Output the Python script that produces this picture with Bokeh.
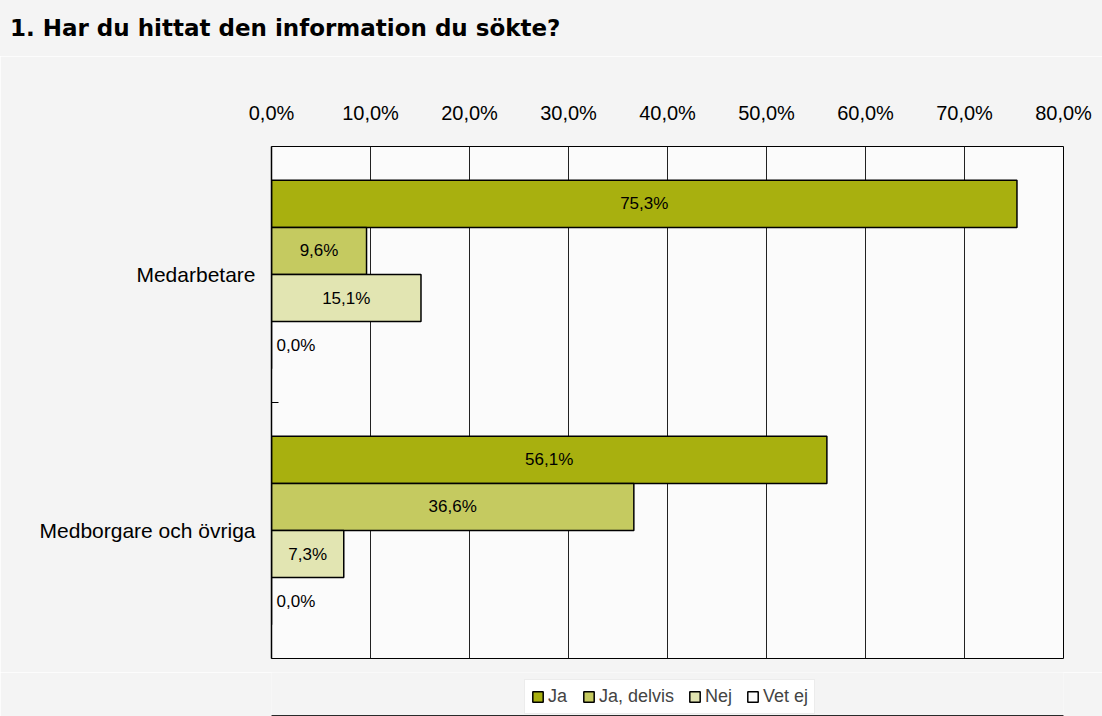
from bokeh.plotting import figure
from bokeh.layouts import column
from bokeh.models import (Range1d, FixedTicker, CustomJSTickFormatter, Legend,
                          LegendItem, ColumnDataSource, Div)
from bokeh.core.properties import value
from bokeh.embed import file_html
from bokeh.resources import INLINE

# ---- data ----
title_text = "1. Har du hittat den information du sökte?"
categories = ["Medarbetare", "Medborgare och övriga"]
series = ["Ja", "Ja, delvis", "Nej", "Vet ej"]
ja = [75.3, 56.1]
ja_delvis = [9.6, 36.6]
nej = [15.1, 7.3]
vet_ej = [0.0, 0.0]
x_ticks = [0, 10, 20, 30, 40, 50, 60, 70, 80]
colors = ["#a8b00f", "#c5ca60", "#e2e5b2", "#ffffff"]

values = [ja, ja_delvis, nej, vet_ej]
n = len(categories)
centers = [n - i - 0.5 for i in range(n)]
boundaries = [c - 0.5 for c in centers if c - 0.5 > 0]
bar_h = 0.184
FONT = "Liberation Sans"
BG = "#f4f4f4"

# ---- title strip ----
title = Div(text=title_text, width=1102, height=56, margin=(0, 0, 0, 0),
            styles={"background-color": BG, "font-family": "DejaVu Sans",
                    "font-weight": "bold", "font-size": "23px",
                    "color": "black", "line-height": "56px",
                    "padding-left": "10px", "box-sizing": "border-box",
                    "white-space": "nowrap"})

# ---- main chart ----
p = figure(width=1102, height=616,
           x_range=Range1d(0, 80), y_range=Range1d(0, n),
           x_axis_location="above",
           output_backend="svg", toolbar_location=None,
           min_border_left=271, min_border_top=90,
           min_border_right=39, min_border_bottom=14)

p.background_fill_color = "#fbfbfb"
p.border_fill_color = BG
p.outline_line_color = "black"
p.outline_line_width = 1

p.ygrid.visible = False
p.xgrid.ticker = FixedTicker(ticks=x_ticks)
p.xgrid.grid_line_color = "#222222"
p.xgrid.grid_line_width = 1

p.xaxis.ticker = FixedTicker(ticks=x_ticks)
p.xaxis.formatter = CustomJSTickFormatter(
    code="return tick.toFixed(1).replace('.', ',') + '%';")
p.xaxis.axis_line_color = None
p.xaxis.major_tick_line_color = None
p.xaxis.minor_tick_line_color = None
p.xaxis.major_label_standoff = 17
p.xaxis.major_label_text_font = FONT
p.xaxis.major_label_text_font_size = "20px"
p.xaxis.major_label_text_color = "black"

p.yaxis.ticker = FixedTicker(ticks=centers, minor_ticks=boundaries)
p.yaxis.formatter = CustomJSTickFormatter(
    args=dict(cats=categories, n=n),
    code="const i = Math.round(n - tick - 0.5); return cats[i];")
p.yaxis.axis_line_color = "black"
p.yaxis.axis_line_width = 1.5
p.yaxis.major_tick_line_color = None
p.yaxis.minor_tick_line_color = "black"
p.yaxis.minor_tick_in = 7
p.yaxis.minor_tick_out = 0
p.yaxis.major_label_standoff = 10
p.yaxis.major_label_text_font = FONT
p.yaxis.major_label_text_font_size = "21px"
p.yaxis.major_label_text_color = "black"

lab = lambda v: f"{v:.1f}".replace(".", ",") + "%"
for j, s in enumerate(series):
    ys = [c + (1.5 - j) * bar_h for c in centers]
    vals = values[j]
    src = ColumnDataSource(dict(y=ys, right=vals, cat=categories))
    p.hbar(y="y", left=0, right="right", height=bar_h, source=src,
           fill_color=colors[j], line_color="black", line_width=1.5)
    nz = [k for k in range(n) if vals[k] > 0]
    z = [k for k in range(n) if vals[k] == 0]
    if nz:
        p.text(x=[vals[k] / 2 for k in nz], y=[ys[k] for k in nz],
               text=[lab(vals[k]) for k in nz],
               text_align="center", text_baseline="middle",
               text_font=value(FONT), text_font_size=value("17px"),
               text_color="black")
    if z:
        p.text(x=[0 for k in z], y=[ys[k] for k in z],
               text=[lab(vals[k]) for k in z], x_offset=5,
               text_align="left", text_baseline="middle",
               text_font=value(FONT), text_font_size=value("17px"),
               text_color="black")

# ---- legend strip (separate figure below the chart) ----
p2 = figure(width=1102, height=44, x_range=Range1d(0, 1), y_range=Range1d(0, 1),
            x_axis_type=None, y_axis_type=None,
            output_backend="svg", toolbar_location=None,
            min_border=0)
p2.grid.visible = False
p2.outline_line_color = None
p2.background_fill_color = BG
p2.border_fill_color = BG

leg_renderers = []
for j, s in enumerate(series):
    # legend swatch renderers, kept out of the visible range
    src = ColumnDataSource(dict(y=[-5.0] * n, right=values[j]))
    r = p2.hbar(y="y", left=0, right="right", height=0.1, source=src,
                fill_color=colors[j], line_color="black", line_width=1.5)
    leg_renderers.append(r)

legend = Legend(items=[LegendItem(label=s, renderers=[r])
                       for s, r in zip(series, leg_renderers)],
                orientation="horizontal", location=(253, 2),
                border_line_color="#d9d9d9", background_fill_color="white",
                label_text_font=FONT, label_text_font_size="18px",
                glyph_width=13, glyph_height=13, spacing=14, padding=6,
                label_standoff=4, margin=0)
p2.add_layout(legend, "center")

open("out.html", "w").write(file_html(column(title, p, p2, spacing=0), INLINE))
